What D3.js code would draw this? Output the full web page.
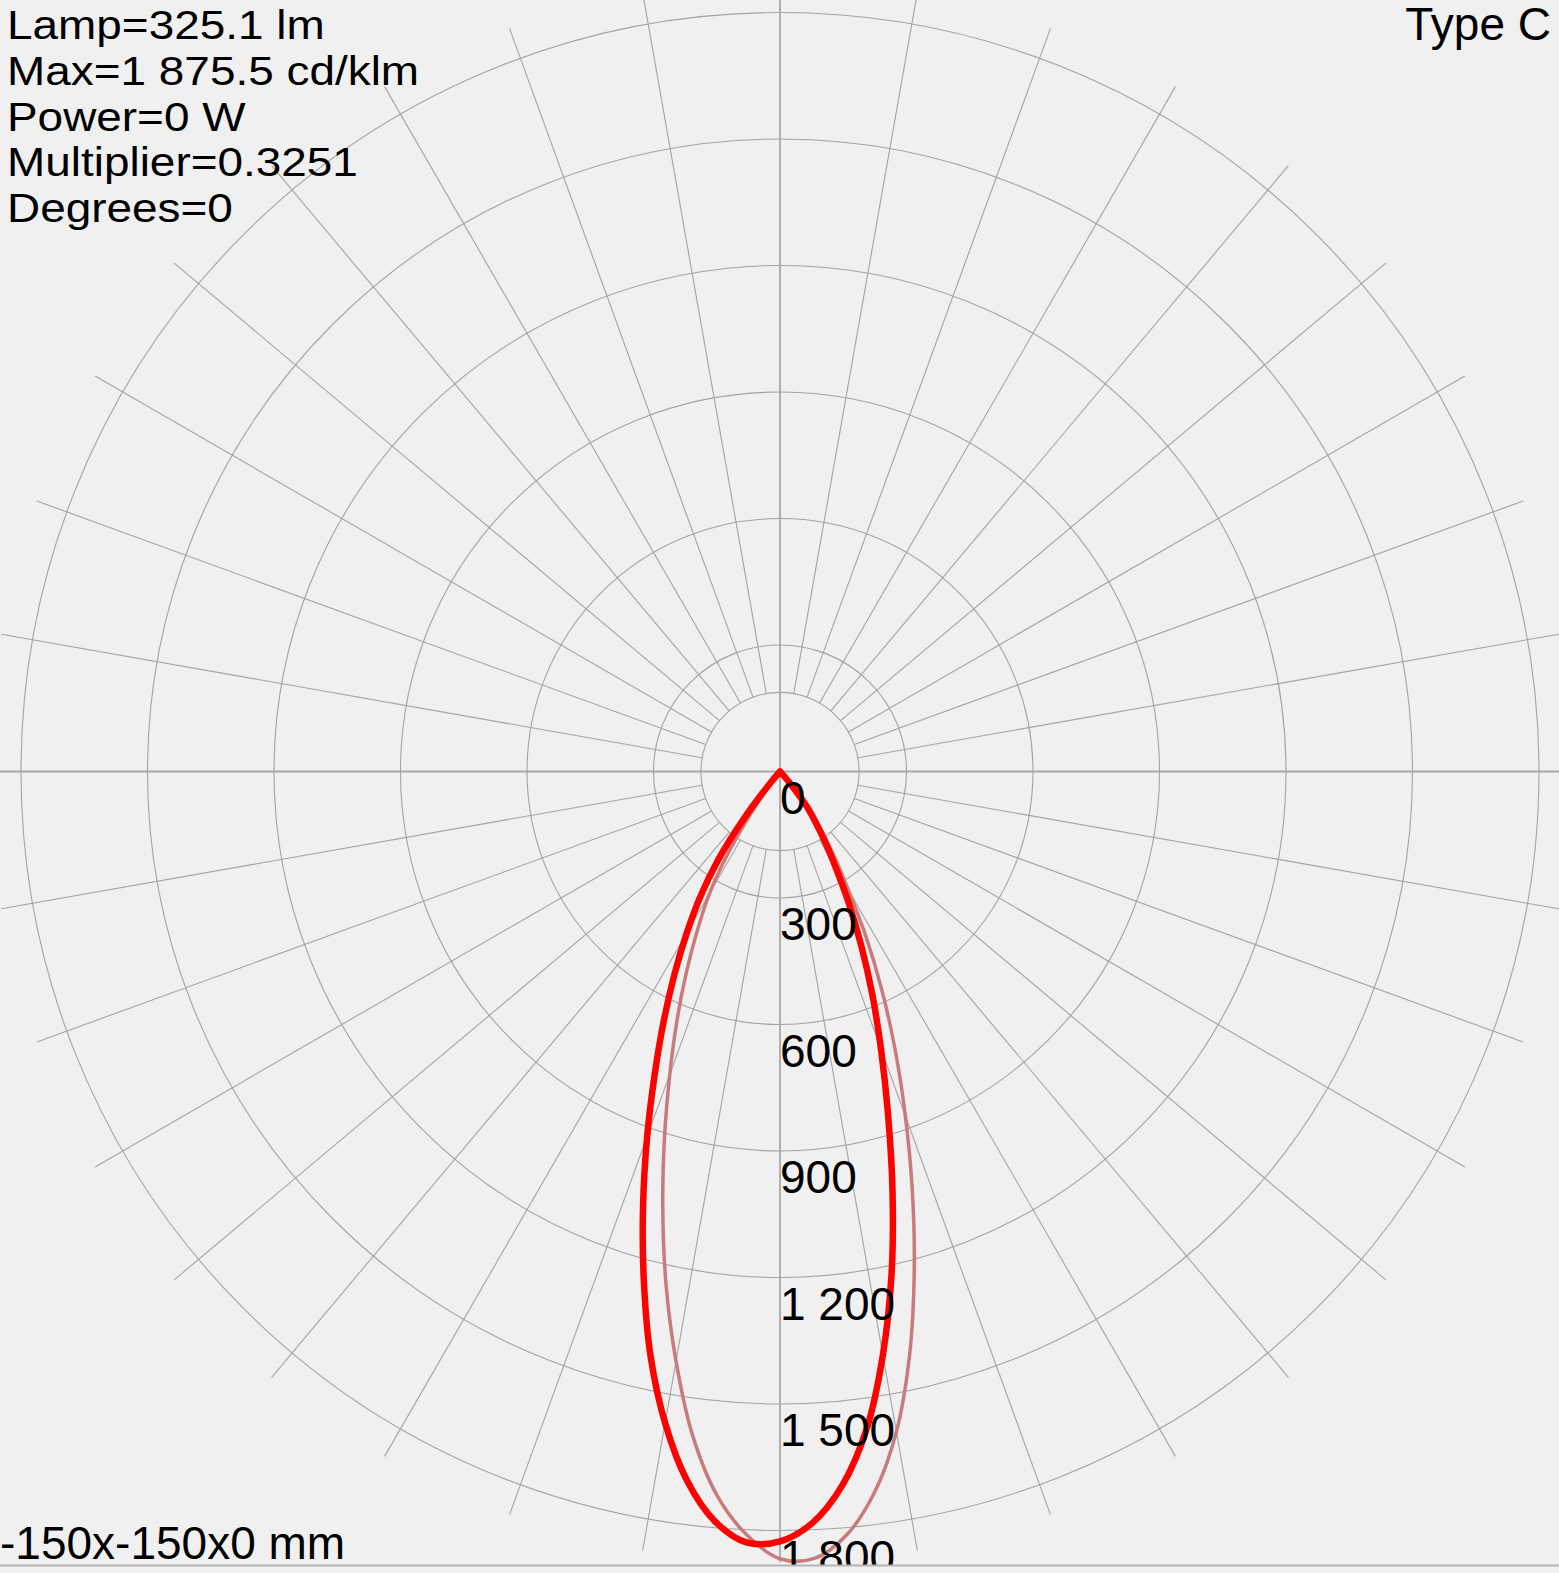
<!DOCTYPE html>
<html>
<head>
<meta charset="utf-8">
<script src="https://cdn.jsdelivr.net/npm/d3@7"></script>
<style>
  body { margin: 0; background: #f0f0f0; }
  text { font-family: "Liberation Sans", Arial, sans-serif; fill: #000; }
</style>
</head>
<body>
<div id="chart"></div>
<script>
// gamma angles (deg), measured from straight down
const gammaDeg = [0, 2.5, 5, 7.5, 10, 12.5, 15, 17.5, 20, 22.5, 25, 27.5, 30, 32.5, 35, 37.5, 40, 42.5, 45, 90];
// C0 / C180 plane (red, right / left)
const c0Values   = [1826, 1783, 1699, 1573, 1405, 1222, 1031, 852, 700, 572, 456, 356, 267, 202, 147, 102, 40, 10, 0, 0];
const c180Values = [1826, 1830, 1784, 1695, 1569, 1419, 1248, 1080, 921, 776, 652, 542, 442, 351, 255, 140, 35, 0, 0, 0];
// C90 / C270 plane (pink, right / left)
const c90Values  = [1867, 1868, 1817, 1723, 1590, 1419, 1230, 1044, 869, 713, 571, 442, 323, 241, 174, 122, 50, 12, 0, 0];
const c270Values = [1867, 1812, 1722, 1588, 1420, 1248, 1074, 911, 764, 638, 525, 424, 335, 225, 110, 25, 0, 0, 0, 0];

const ringValues = [300, 600, 900, 1200, 1500, 1800];
const labelValues = [0, 300, 600, 900, 1200, 1500, 1800];
const labelTexts = ["0", "300", "600", "900", "1 200", "1 500", "1 800"];
const spokeDeg = d3.range(0, 360, 10);
const maxValue = 1875.5;

const infoLines = ["Lamp=325.1 lm", "Max=1 875.5 cd/klm", "Power=0 W", "Multiplier=0.3251", "Degrees=0"];
const typeLabel = "Type C";
const sizeLabel = "-150x-150x0 mm";

// drawing area
let width = 1559;
let height = 1573;
let frameHeight = 1565;
let cx = 780;
let cy = 771.5;

let svg = d3.select("#chart")
  .append("svg")
  .attr("width", width)
  .attr("height", height)
  .style("display", "block");

svg.append("rect")
  .attr("width", width)
  .attr("height", height)
  .attr("fill", "#f0f0f0");

svg.append("clipPath")
  .attr("id", "frame")
  .append("rect")
  .attr("width", width)
  .attr("height", frameHeight);

let plot = svg.append("g").attr("clip-path", "url(#frame)");
let g = plot.append("g").attr("transform", "translate(" + cx + "," + cy + ")");

// radius scale: 300 cd/klm per ring
let r = d3.scaleLinear().domain([0, 1800]).range([0, 759]);

// rings (plus the small inner ring at max/10)
g.selectAll("circle.ring")
  .data(ringValues.concat([maxValue / 10]))
  .enter().append("circle")
  .attr("class", "ring")
  .attr("r", d => r(d))
  .attr("fill", "none")
  .attr("stroke", "#a3a3a3")
  .attr("stroke-width", 1.1);

// spokes every 10 degrees, the four axes go through the centre
g.selectAll("line.spoke")
  .data(spokeDeg)
  .enter().append("line")
  .attr("class", "spoke")
  .each(function(d) {
    let a = d * Math.PI / 180;
    let isAxis = d % 90 === 0;
    let p0 = d3.pointRadial(a, isAxis ? 0 : r(maxValue / 10));
    let p1 = d3.pointRadial(a, r(maxValue));
    d3.select(this)
      .attr("x1", p0[0]).attr("y1", p0[1])
      .attr("x2", p1[0]).attr("y2", p1[1])
      .attr("stroke", isAxis ? "#a8a8a8" : "#a3a3a3")
      .attr("stroke-width", isAxis ? 1.8 : 1.1);
  });

// polar curve: left half (gamma 90 -> 0) then right half (0 -> 90)
function planePoints(rightValues, leftValues) {
  let pts = [];
  for (let i = gammaDeg.length - 1; i > 0; i--) {
    pts.push([Math.PI + gammaDeg[i] * Math.PI / 180, leftValues[i]]);
  }
  for (let i = 0; i < gammaDeg.length; i++) {
    pts.push([Math.PI - gammaDeg[i] * Math.PI / 180, rightValues[i]]);
  }
  return pts;
}

let radial = d3.lineRadial()
  .angle(d => d[0])
  .radius(d => r(d[1]))
  .curve(d3.curveCatmullRom.alpha(0.5));

g.append("path")
  .datum(planePoints(c90Values, c270Values))
  .attr("d", radial)
  .attr("fill", "none")
  .attr("stroke", "#c97b7b")
  .attr("stroke-width", 3.5)
  .attr("stroke-linejoin", "round");

g.append("path")
  .datum(planePoints(c0Values, c180Values))
  .attr("d", radial)
  .attr("fill", "none")
  .attr("stroke", "#ff0000")
  .attr("stroke-width", 6.5)
  .attr("stroke-linejoin", "round")
  .attr("stroke-linecap", "round");

// ring value labels along the downward axis
g.selectAll("text.val")
  .data(labelValues)
  .enter().append("text")
  .attr("class", "val")
  .attr("x", 0)
  .attr("y", (d) => r(d) + 42)
  .style("font-size", "46px")
  .text((d, i) => labelTexts[i]);

// header texts (the originals are a little wider than tall)
svg.selectAll("text.info")
  .data(infoLines)
  .enter().append("text")
  .attr("class", "info")
  .attr("transform", (d, i) => "translate(7," + (39 + i * 45.8) + ") scale(1.12,1)")
  .style("font-size", "41px")
  .text(d => d);

svg.append("text")
  .attr("x", 1551)
  .attr("y", 40)
  .attr("text-anchor", "end")
  .style("font-size", "46px")
  .text(typeLabel);

svg.append("text")
  .attr("x", 0)
  .attr("y", 1559)
  .style("font-size", "46px")
  .text(sizeLabel);

// frame bottom line
svg.append("line")
  .attr("x1", 0).attr("x2", width)
  .attr("y1", frameHeight + 0.5).attr("y2", frameHeight + 0.5)
  .attr("stroke", "#b4b4b4")
  .attr("stroke-width", 2);
</script>
</body>
</html>
